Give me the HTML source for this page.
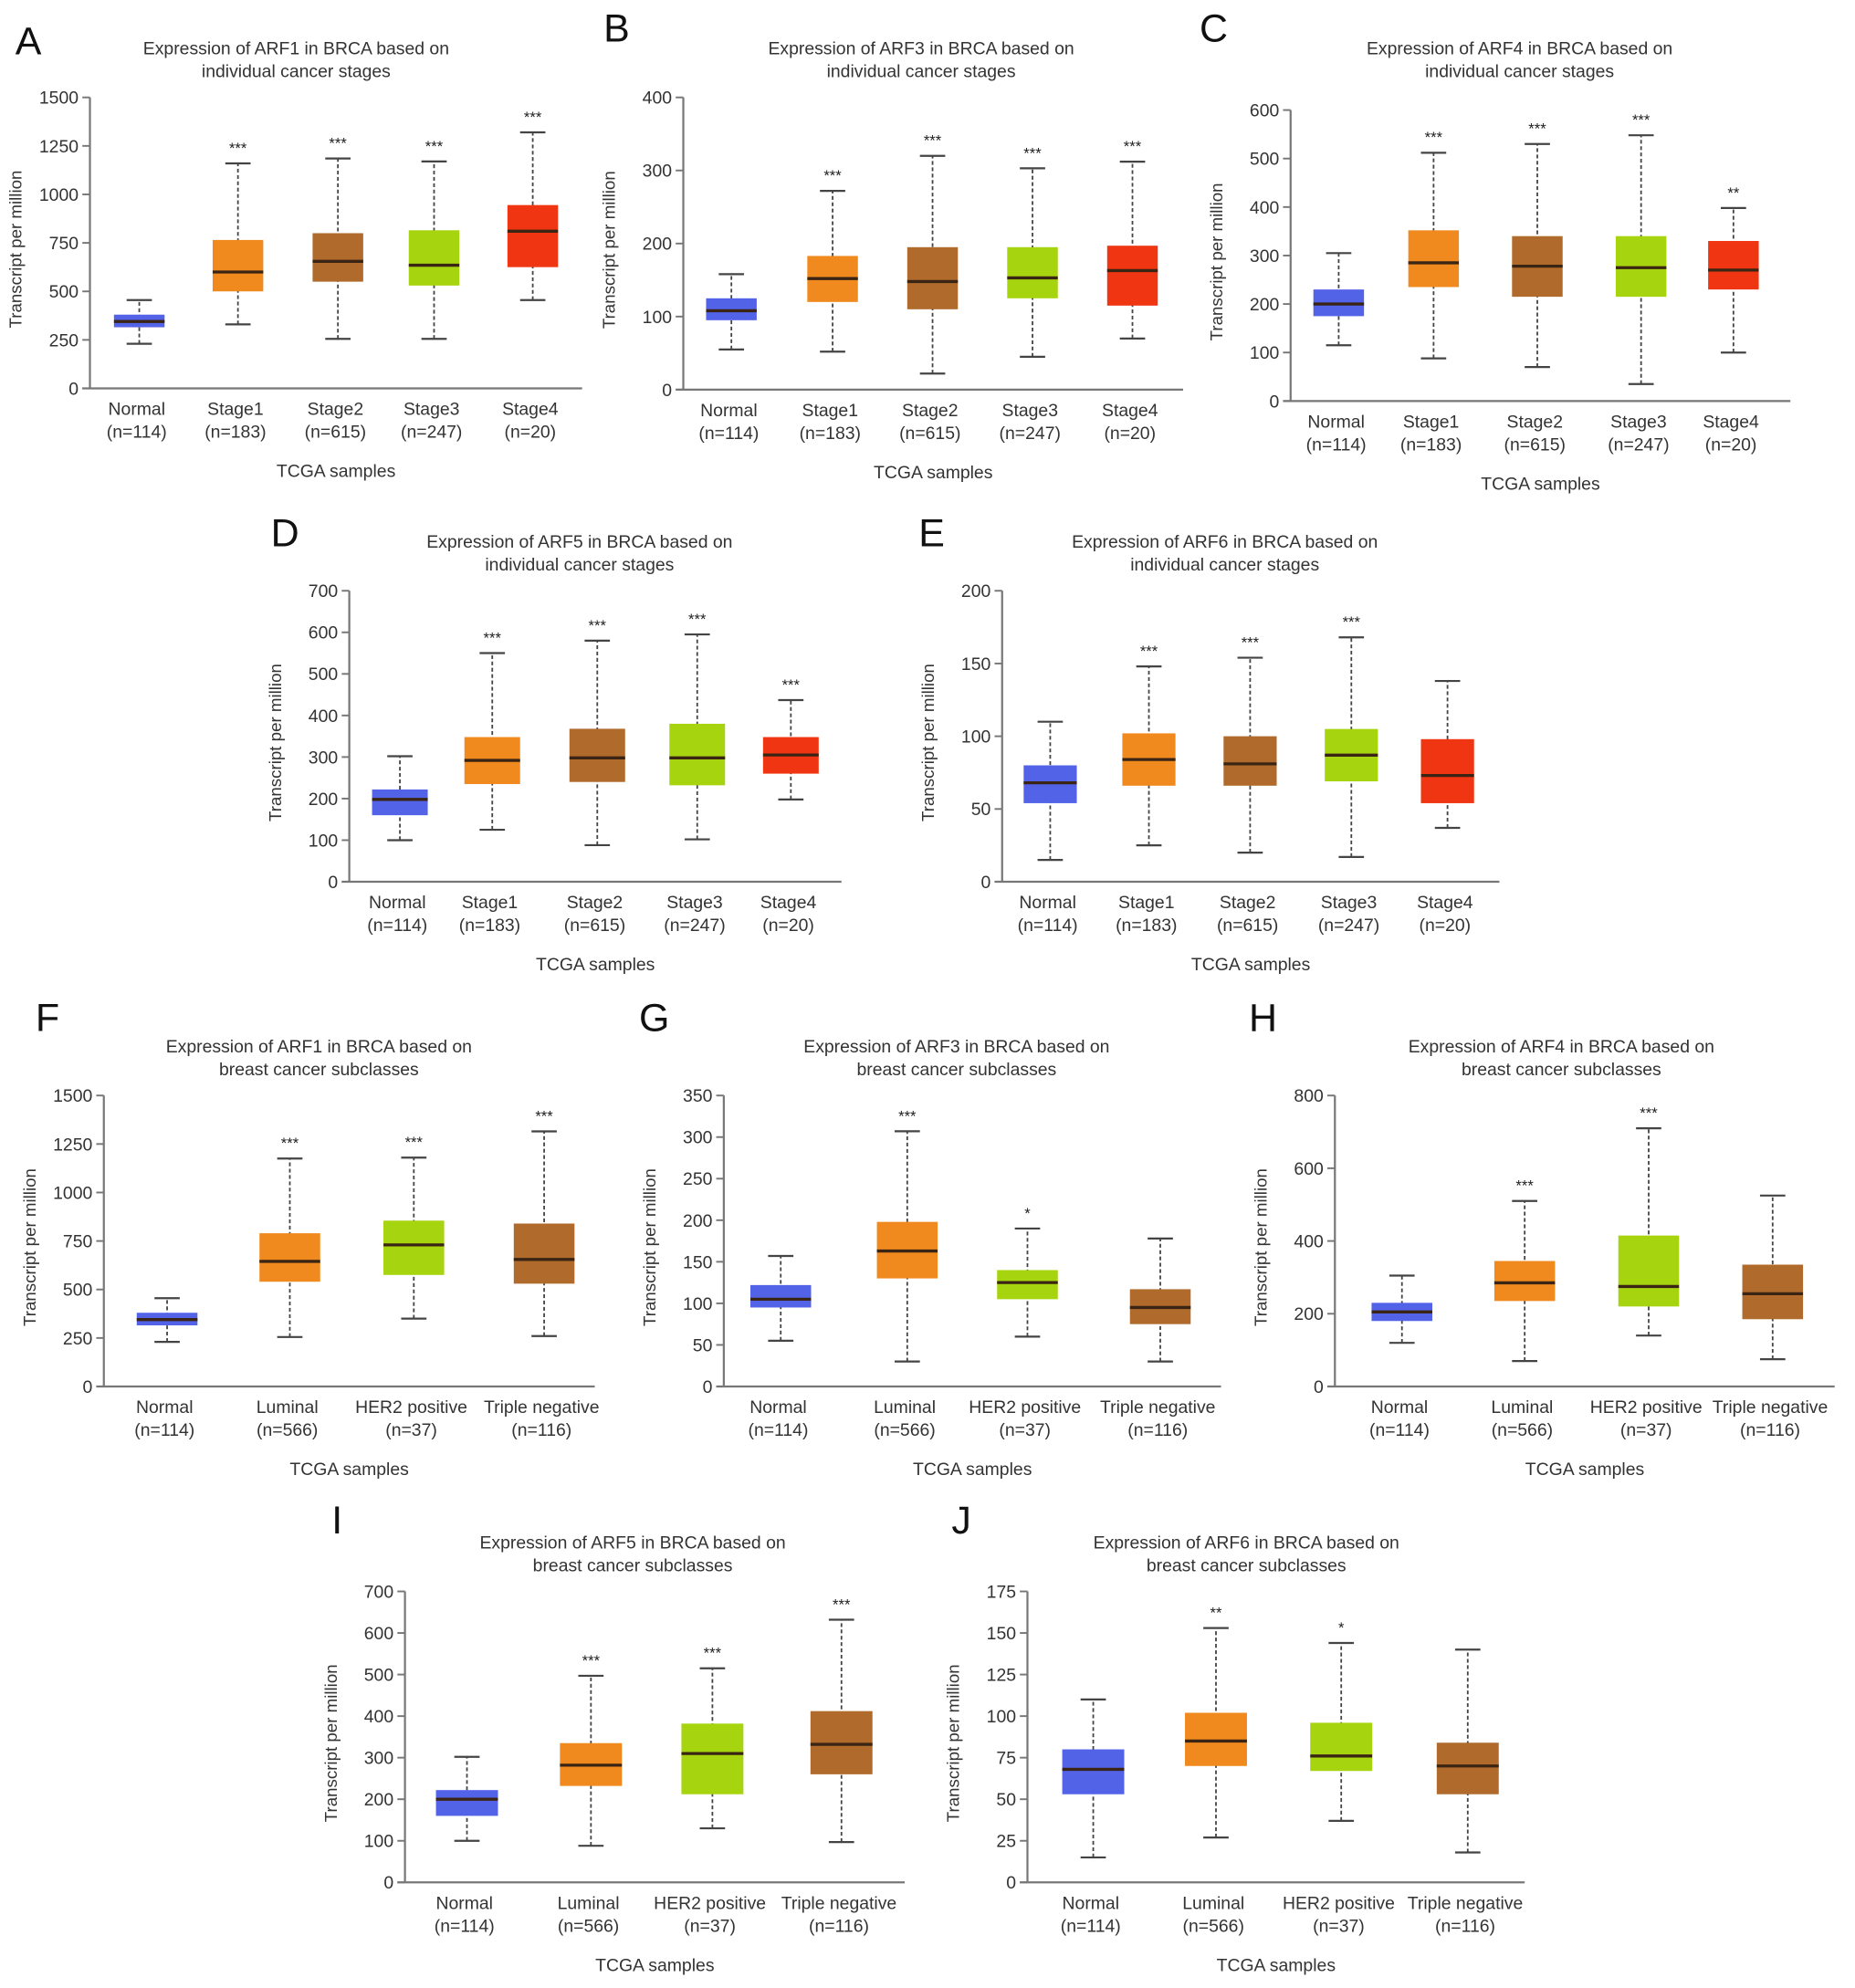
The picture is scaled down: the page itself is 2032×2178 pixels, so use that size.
<!DOCTYPE html>
<html><head><meta charset="utf-8"><style>
html,body{margin:0;padding:0;background:#fff;}
svg{display:block;}
text{font-family:"Liberation Sans",Arial,sans-serif;fill:#333;}
</style></head><body>
<svg id="fig" width="2032" height="2178" viewBox="0 0 1466 1571.5" xmlns="http://www.w3.org/2000/svg"></svg>
<script>
// ---- data ----
const stageCats = ["Normal","Stage1","Stage2","Stage3","Stage4"];
const stageNs = ["(n=114)","(n=183)","(n=615)","(n=247)","(n=20)"];
const subCats = ["Normal","Luminal","HER2 positive","Triple negative"];
const subNs = ["(n=114)","(n=566)","(n=37)","(n=116)"];
const stageColors = ["#5263e8","#f08a1f","#b06b2c","#a6d40f","#ef3511"];
const subColors = ["#5263e8","#f08a1f","#a6d40f","#b06b2c"];

// [min,q1,median,q3,max] per category
const dataA = [[230,315,345,380,455],[330,500,600,765,1160],[255,550,655,800,1185],[255,530,635,815,1170],[455,625,810,945,1320]];
const dataB = [[55,95,108,125,158],[52,120,152,183,272],[22,110,148,195,320],[45,125,153,195,303],[70,115,163,197,312]];
const dataC = [[115,175,200,230,305],[88,235,285,352,512],[70,215,278,340,530],[35,215,275,340,548],[100,230,270,330,398]];
const dataD = [[100,160,198,222,302],[125,235,292,348,550],[88,240,298,368,580],[102,232,298,380,595],[198,260,305,348,437]];
const dataE = [[15,54,68,80,110],[25,66,84,102,148],[20,66,81,100,154],[17,69,87,105,168],[37,54,73,98,138]];
const dataF = [[230,315,345,380,455],[255,540,645,790,1175],[350,575,730,855,1180],[260,530,655,840,1315]];
const dataG = [[55,95,105,122,157],[30,130,163,198,307],[60,105,125,140,190],[30,75,95,117,178]];
const dataH = [[120,180,205,230,305],[70,235,285,345,510],[140,220,275,415,710],[75,185,255,335,525]];
const dataI = [[100,160,200,222,302],[88,232,282,335,497],[130,212,310,382,515],[97,260,332,412,632]];
const dataJ = [[15,53,68,80,110],[27,70,85,102,153],[37,67,76,96,144],[18,53,70,84,140]];

const sigA = ["","***","***","***","***"];
const sigB = ["","***","***","***","***"];
const sigC = ["","***","***","***","**"];
const sigD = ["","***","***","***","***"];
const sigE = ["","***","***","***",""];
const sigF = ["","***","***","***"];
const sigG = ["","***","*",""];
const sigH = ["","***","***",""];
const sigI = ["","***","***","***"];
const sigJ = ["","**","*",""];

const ticksA = [0,250,500,750,1000,1250,1500];
const ticksB = [0,100,200,300,400];
const ticksC = [0,100,200,300,400,500,600];
const ticksD = [0,100,200,300,400,500,600,700];
const ticksE = [0,50,100,150,200];
const ticksF = [0,250,500,750,1000,1250,1500];
const ticksG = [0,50,100,150,200,250,300,350];
const ticksH = [0,200,400,600,800];
const ticksI = [0,100,200,300,400,500,600,700];
const ticksJ = [0,25,50,75,100,125,150,175];

// ---- layout ----
const panels = [
 {id:"a",letter:"A",lx:12,ly:43,ty:43,gene:"ARF1",sub:"individual cancer stages",ax:71,x1:460,y0:307,yt:77,tc:234,c:[110,188,267,343,421],w:40,d:dataA,s:sigA,t:ticksA,cats:stageCats,ns:stageNs,col:stageColors},
 {id:"b",letter:"B",lx:477,ly:33,ty:43,gene:"ARF3",sub:"individual cancer stages",ax:540,x1:935,y0:308,yt:77,tc:728,c:[578,658,737,816,895],w:40,d:dataB,s:sigB,t:ticksB,cats:stageCats,ns:stageNs,col:stageColors},
 {id:"c",letter:"C",lx:948,ly:33,ty:43,gene:"ARF4",sub:"individual cancer stages",ax:1020,x1:1415,y0:317,yt:87,tc:1201,c:[1058,1133,1215,1297,1370],w:40,d:dataC,s:sigC,t:ticksC,cats:stageCats,ns:stageNs,col:stageColors},
 {id:"d",letter:"D",lx:214,ly:432,ty:433,gene:"ARF5",sub:"individual cancer stages",ax:276,x1:665,y0:697,yt:467,tc:458,c:[316,389,472,551,625],w:44,d:dataD,s:sigD,t:ticksD,cats:stageCats,ns:stageNs,col:stageColors},
 {id:"e",letter:"E",lx:726,ly:432,ty:433,gene:"ARF6",sub:"individual cancer stages",ax:792,x1:1185,y0:697,yt:467,tc:968,c:[830,908,988,1068,1144],w:42,d:dataE,s:sigE,t:ticksE,cats:stageCats,ns:stageNs,col:stageColors},
 {id:"f",letter:"F",lx:28,ly:815,ty:832,gene:"ARF1",sub:"breast cancer subclasses",ax:82,x1:470,y0:1096,yt:866,tc:252,c:[132,229,327,430],w:48,d:dataF,s:sigF,t:ticksF,cats:subCats,ns:subNs,col:subColors},
 {id:"g",letter:"G",lx:505,ly:815,ty:832,gene:"ARF3",sub:"breast cancer subclasses",ax:572,x1:965,y0:1096,yt:866,tc:756,c:[617,717,812,917],w:48,d:dataG,s:sigG,t:ticksG,cats:subCats,ns:subNs,col:subColors},
 {id:"h",letter:"H",lx:987,ly:815,ty:832,gene:"ARF4",sub:"breast cancer subclasses",ax:1055,x1:1450,y0:1096,yt:866,tc:1234,c:[1108,1205,1303,1401],w:48,d:dataH,s:sigH,t:ticksH,cats:subCats,ns:subNs,col:subColors},
 {id:"i",letter:"I",lx:262,ly:1212,ty:1224,gene:"ARF5",sub:"breast cancer subclasses",ax:320,x1:715,y0:1488,yt:1258,tc:500,c:[369,467,563,665],w:49,d:dataI,s:sigI,t:ticksI,cats:subCats,ns:subNs,col:subColors},
 {id:"j",letter:"J",lx:752,ly:1212,ty:1224,gene:"ARF6",sub:"breast cancer subclasses",ax:812,x1:1205,y0:1488,yt:1258,tc:985,c:[864,961,1060,1160],w:49,d:dataJ,s:sigJ,t:ticksJ,cats:subCats,ns:subNs,col:subColors}
];

const NS="http://www.w3.org/2000/svg";
const svg=document.getElementById('fig');
function mk(tag,attrs,parent,txt){const e=document.createElementNS(NS,tag);for(const k in attrs)e.setAttribute(k,attrs[k]);if(txt!==undefined)e.textContent=txt;parent.appendChild(e);return e;}

panels.forEach(p=>{
  const g=mk('g',{},svg);
  
  
  const maxT=p.t[p.t.length-1];
  const y=v=>p.y0-(v/maxT)*(p.y0-p.yt);
  const L=mk('text',{x:p.lx,y:p.ly,'font-size':31,style:'fill:#111'},g,p.letter);
  
  
  const T=mk('text',{x:p.tc,y:p.ty,'font-size':14,'text-anchor':'middle'},g);
  
  
  mk('tspan',{x:p.tc},T,'Expression of '+p.gene+' in BRCA based on');
  mk('tspan',{x:p.tc,dy:18},T,p.sub);
  // axes
  const ya=mk('line',{x1:p.ax,y1:p.yt,x2:p.ax,y2:p.y0,stroke:'#777','stroke-width':1.6},g);
  
  
  const xa=mk('line',{x1:p.ax-6,y1:p.y0,x2:p.x1,y2:p.y0,stroke:'#777','stroke-width':1.6},g);
  
  
  p.t.forEach(v=>{
    mk('line',{x1:p.ax-6,y1:y(v),x2:p.ax,y2:y(v),stroke:'#777','stroke-width':1.4},g);
    const tl=mk('text',{x:p.ax-9,y:y(v)+5,'font-size':14,'text-anchor':'end'},g,String(v));
    
    
  });
  const yl=mk('text',{x:0,y:0,'font-size':13.5,'text-anchor':'middle',transform:`translate(${p.ax-54},${(p.y0+p.yt)/2+5}) rotate(-90)`},g,'Transcript per million');
  
  
  const xt=mk('text',{x:(p.ax+p.x1)/2,y:p.y0+70,'font-size':14,'text-anchor':'middle'},g,'TCGA samples');
  
  
  p.d.forEach((b,i)=>{
    const cx=p.c[i], hw=p.w/2;
    const bg=mk('g',{},g);
    
    
    mk('line',{x1:cx,y1:y(b[0]),x2:cx,y2:y(b[4]),stroke:'#444','stroke-width':1.3,'stroke-dasharray':'3,2'},bg);
    mk('line',{x1:cx-10,y1:y(b[0]),x2:cx+10,y2:y(b[0]),stroke:'#444','stroke-width':1.6},bg);
    mk('line',{x1:cx-10,y1:y(b[4]),x2:cx+10,y2:y(b[4]),stroke:'#444','stroke-width':1.6},bg);
    mk('rect',{x:cx-hw,y:y(b[3]),width:p.w,height:y(b[1])-y(b[3]),fill:p.col[i]},bg);
    mk('line',{x1:cx-hw,y1:y(b[2]),x2:cx+hw,y2:y(b[2]),stroke:'#3a2414','stroke-width':2.4},bg);
    if(p.s[i]){
      const st=mk('text',{x:cx,y:y(b[4])-8,'font-size':12,'text-anchor':'middle',style:'fill:#222'},g,p.s[i]);
      
      
    }
    const cl=mk('text',{x:cx-2,y:p.y0+21,'font-size':14,'text-anchor':'middle'},g);
    
    
    mk('tspan',{x:cx-2},cl,p.cats[i]);
    mk('tspan',{x:cx-2,dy:18},cl,p.ns[i]);
  });
});
</script>
</body></html>
